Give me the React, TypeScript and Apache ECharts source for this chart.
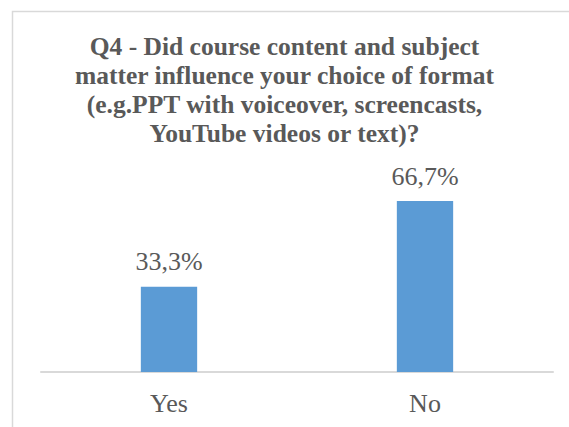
import React, { useEffect, useRef } from "react";
import * as echarts from "echarts";

const categories = ["Yes", "No"];
const values = [33.3, 66.7];
const titleText =
  "Q4 - Did course content and subject\nmatter influence your choice of format\n(e.g.PPT with voiceover, screencasts,\nYouTube videos or text)?";

const FONT = "'Liberation Serif', 'Times New Roman', serif";
const GRAY = "#595959";

export default function App() {
  const ref = useRef<HTMLDivElement>(null);
  useEffect(() => {
    document.documentElement.style.overflow = "hidden";
    document.body.style.overflow = "hidden";
    document.body.style.margin = "0";
    const chart = echarts.init(ref.current!, null, { renderer: "svg" });
    chart.setOption({
      animation: false,
      backgroundColor: "#ffffff",
      title: {
        text: titleText,
        left: "center",
        top: 32,
        padding: [0, 0, 0, 25],
        textStyle: {
          fontFamily: FONT,
          fontWeight: "bold",
          fontSize: 25.5,
          lineHeight: 29,
          color: GRAY,
          align: "center",
        },
      },
      graphic: [
        {
          type: "polyline",
          z: -10,
          shape: { points: [[12.5, 440], [12.5, 11.5], [580, 11.5]] },
          style: { fill: "none", stroke: "#d9d9d9", lineWidth: 1.5 },
        },
      ],
      grid: { left: 41, right: 16, top: 167, bottom: 55 },
      xAxis: {
        type: "category",
        data: categories,
        axisLine: { show: true, lineStyle: { color: "#d9d9d9", width: 2 } },
        axisTick: { show: false },
        axisLabel: {
          margin: 18,
          fontFamily: FONT,
          fontSize: 26,
          color: GRAY,
        },
      },
      yAxis: {
        type: "value",
        min: 0,
        max: 80,
        show: false,
        splitLine: { show: false },
      },
      series: [
        {
          type: "bar",
          data: values,
          barWidth: "22%",
          itemStyle: { color: "#5b9bd5" },
          label: {
            show: true,
            position: "top",
            distance: 12,
            fontFamily: FONT,
            fontSize: 26,
            color: GRAY,
            formatter: (p: any) => p.value.toFixed(1).replace(".", ",") + "%",
          },
        },
      ],
    });
    return () => chart.dispose();
  }, []);
  return (
    <div
      ref={ref}
      style={{ position: "fixed", left: 0, top: 0, width: 569, height: 427 }}
    />
  );
}
